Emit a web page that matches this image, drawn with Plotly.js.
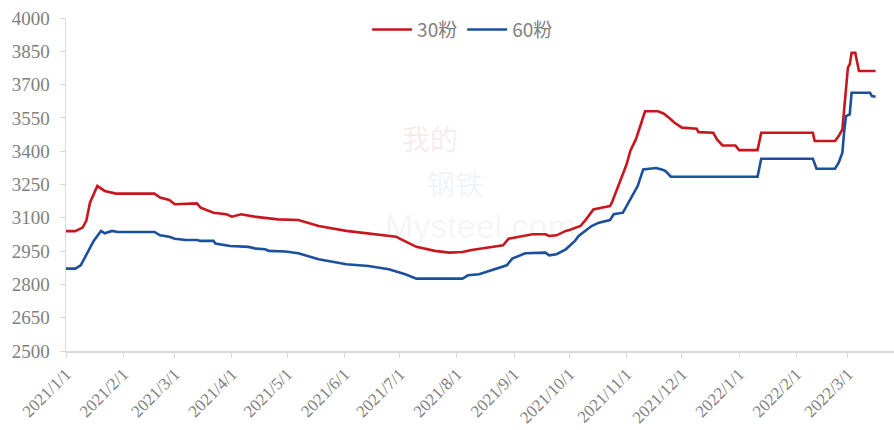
<!DOCTYPE html>
<html>
<head>
<meta charset="utf-8">
<script src="https://cdn.plot.ly/plotly-3.0.1.min.js"></script>
<style>html,body{margin:0;padding:0;background:#fff;}#chart{width:894px;height:430px;}</style>
</head>
<body>
<div id="chart"></div>
<script>
// 30粉 series
const dates30 = ['2021-01-01','2021-01-06','2021-01-10','2021-01-12','2021-01-14','2021-01-16','2021-01-18','2021-01-22','2021-01-28','2021-02-18','2021-02-21','2021-02-26','2021-03-01','2021-03-13','2021-03-15','2021-03-22','2021-03-29','2021-04-01','2021-04-06','2021-04-14','2021-04-23','2021-04-26','2021-05-07','2021-05-18','2021-06-02','2021-06-14','2021-06-29','2021-07-01','2021-07-10','2021-07-20','2021-07-28','2021-08-04','2021-08-09','2021-08-18','2021-08-26','2021-08-29','2021-09-04','2021-09-11','2021-09-18','2021-09-20','2021-09-24','2021-09-29','2021-10-01','2021-10-07','2021-10-10','2021-10-14','2021-10-19','2021-10-23','2021-10-24','2021-10-26','2021-10-29','2021-11-01','2021-11-03','2021-11-06','2021-11-09','2021-11-11','2021-11-18','2021-11-21','2021-11-24','2021-11-27','2021-12-01','2021-12-09','2021-12-10','2021-12-18','2021-12-20','2021-12-23','2021-12-30','2022-01-01','2022-01-11','2022-01-13','2022-02-10','2022-02-11','2022-02-22','2022-02-24','2022-02-26','2022-02-27','2022-03-01','2022-03-02','2022-03-03','2022-03-05','2022-03-07','2022-03-16'];
const values30 = [3040,3040,3056,3086,3168,3206,3243,3221,3209,3209,3191,3180,3161,3165,3146,3123,3116,3105,3116,3104,3098,3093,3090,3063,3041,3029,3015,3006,2969,2951,2943,2946,2955,2966,2976,3006,3015,3026,3026,3018,3021,3041,3045,3063,3093,3138,3146,3153,3168,3213,3281,3341,3401,3453,3528,3580,3580,3570,3551,3528,3506,3501,3486,3483,3453,3426,3426,3405,3405,3483,3483,3446,3446,3468,3498,3603,3776,3791,3843,3843,3761,3761];

// 60粉 series
const dates60 = ['2021-01-01','2021-01-06','2021-01-09','2021-01-12','2021-01-16','2021-01-20','2021-01-22','2021-01-26','2021-01-29','2021-02-18','2021-02-21','2021-02-26','2021-03-01','2021-03-07','2021-03-13','2021-03-15','2021-03-22','2021-03-23','2021-03-31','2021-04-10','2021-04-14','2021-04-19','2021-04-21','2021-04-30','2021-05-07','2021-05-18','2021-06-02','2021-06-14','2021-06-25','2021-07-04','2021-07-10','2021-08-04','2021-08-07','2021-08-13','2021-08-17','2021-08-28','2021-08-31','2021-09-07','2021-09-18','2021-09-20','2021-09-24','2021-09-29','2021-10-04','2021-10-06','2021-10-13','2021-10-17','2021-10-23','2021-10-25','2021-10-30','2021-11-01','2021-11-04','2021-11-07','2021-11-10','2021-11-17','2021-11-20','2021-11-22','2021-11-25','2022-01-11','2022-01-13','2022-02-10','2022-02-12','2022-02-22','2022-02-24','2022-02-26','2022-02-27','2022-02-28','2022-03-02','2022-03-03','2022-03-13','2022-03-14','2022-03-16'];
const values60 = [2871,2871,2886,2936,2996,3041,3030,3041,3036,3036,3021,3015,3006,3000,3000,2996,2996,2984,2973,2969,2961,2958,2951,2948,2940,2913,2891,2883,2868,2846,2826,2826,2841,2846,2856,2886,2916,2940,2943,2931,2936,2958,2996,3018,3063,3078,3090,3116,3123,3153,3198,3243,3318,3324,3318,3311,3285,3285,3366,3366,3321,3321,3348,3393,3491,3558,3566,3663,3663,3648,3645];

const yTicks = [2500,2650,2800,2950,3100,3250,3400,3550,3700,3850,4000];
const xTickVals = ['2021-01-01','2021-02-01','2021-03-01','2021-04-01','2021-05-01','2021-06-01','2021-07-01','2021-08-01','2021-09-01','2021-10-01','2021-11-01','2021-12-01','2022-01-01','2022-02-01','2022-03-01'];
const xTickText = ['2021/1/1','2021/2/1','2021/3/1','2021/4/1','2021/5/1','2021/6/1','2021/7/1','2021/8/1','2021/9/1','2021/10/1','2021/11/1','2021/12/1','2022/1/1','2022/2/1','2022/3/1'];

const traces = [
  {x: dates30, y: values30, name: '30粉', type: 'scatter', mode: 'lines',
   line: {color: '#C8161E', width: 2.6}},
  {x: dates60, y: values60, name: '60粉', type: 'scatter', mode: 'lines',
   line: {color: '#1C4F9C', width: 2.6}}
];

const SERIF = 'Liberation Serif';

const layout = {
  width: 894, height: 430,
  margin: {l: 66, r: 0, t: 18, b: 79},
  paper_bgcolor: '#fff', plot_bgcolor: '#fff',
  showlegend: true,
  legend: {orientation: 'h', x: 0.479, xanchor: 'center', y: 0.965, yanchor: 'middle',
           font: {family: 'Noto Sans CJK SC', size: 19, color: '#7f7f7f'},
           itemwidth: 40, tracegroupgap: 0},
  xaxis: {
    type: 'date', range: ['2021-01-01', '2022-03-26'],
    tickmode: 'array', tickvals: xTickVals, ticktext: xTickText,
    tickangle: -45, ticks: 'outside', ticklen: 5, tickcolor: '#d9d9d9',
    showline: true, linecolor: '#d9d9d9', linewidth: 1.5,
    showgrid: false, zeroline: false,
    tickfont: {family: SERIF, size: 17, color: '#808080'}
  },
  yaxis: {
    range: [2500, 4000], tickmode: 'array', tickvals: yTicks,
    ticks: 'outside', ticklen: 5, tickcolor: '#d9d9d9',
    showline: true, linecolor: '#d9d9d9', linewidth: 1.5,
    showgrid: false, zeroline: false, ticklabelstandoff: 6,
    tickfont: {family: SERIF, size: 19, color: '#808080'}
  },
  annotations: [
    {xref: 'paper', yref: 'paper', x: 0.44, y: 0.64, yanchor: 'middle', text: '我的', showarrow: false,
     font: {family: 'Noto Sans CJK SC', size: 28, color: 'rgba(200,40,40,0.10)'}},
    {xref: 'paper', yref: 'paper', x: 0.47, y: 0.505, yanchor: 'middle', text: '钢铁', showarrow: false,
     font: {family: 'Noto Sans CJK SC', size: 28, color: 'rgba(30,70,160,0.08)'}},
    {xref: 'paper', yref: 'paper', x: 0.50, y: 0.375, yanchor: 'middle', text: 'Mysteel.com', showarrow: false,
     font: {family: 'Liberation Sans', size: 34, color: 'rgba(150,150,150,0.10)'}}
  ]
};

Plotly.newPlot('chart', traces, layout, {displayModeBar: false, staticPlot: true});
</script>
</body>
</html>
